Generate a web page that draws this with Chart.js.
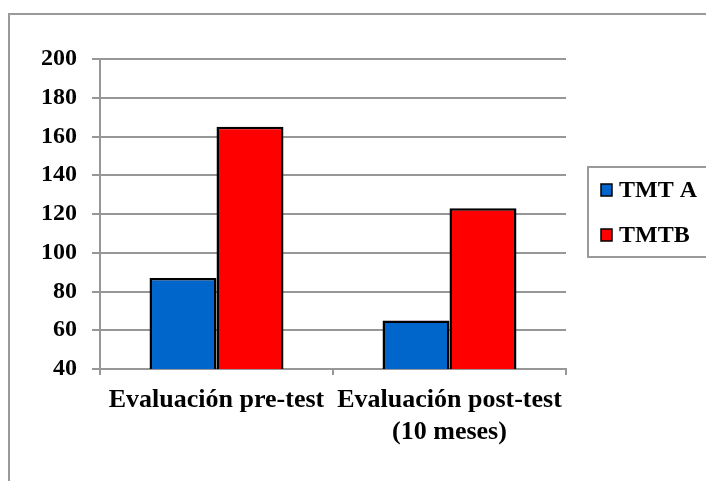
<!DOCTYPE html>
<html>
<head>
<meta charset="utf-8">
<script src="https://cdn.jsdelivr.net/npm/chart.js@4/dist/chart.umd.min.js"></script>
<style>
  html, body { margin: 0; padding: 0; background: #fff; }
  #wrap { width: 706px; height: 481px; position: relative; }
</style>
</head>
<body>
<div id="wrap"><canvas id="c" width="706" height="481"></canvas></div>
<script>
// Categories (multi-line labels as arrays)
const categories = [["Evaluación pre-test"], ["Evaluación post-test", "(10 meses)"]];
// Series
const seriesNames = ["TMT A", "TMTB"];
const tmtA = [87, 65];
const tmtB = [165, 123];
const seriesColors = ["#0066cc", "#ff0000"];
// Value axis
const yMin = 40;
const yMax = 200;
const yStep = 20;

const FONT = '"Liberation Serif", "Times New Roman", serif';
const GRID = '#979797';

// White page with the grey frame around the chart
const framePlugin = {
  id: 'frame',
  beforeDraw(chart) {
    const ctx = chart.ctx;
    ctx.save();
    ctx.fillStyle = '#fff';
    ctx.fillRect(0, 0, chart.width, chart.height);
    ctx.strokeStyle = '#9a9a9a';
    ctx.lineWidth = 2;
    ctx.strokeRect(9, 14, chart.width + 20, chart.height + 20);
    ctx.restore();
  }
};

// Boxed legend on the right, built from the datasets
const boxLegend = {
  id: 'boxLegend',
  afterDraw(chart) {
    const ctx = chart.ctx;
    const area = chart.chartArea;
    const left = area.right + 22;
    const top = 167;
    const bottom = 257;
    ctx.save();
    ctx.strokeStyle = '#9a9a9a';
    ctx.lineWidth = 2;
    ctx.strokeRect(left, top, chart.width, bottom - top);
    ctx.font = 'bold 24px ' + FONT;
    ctx.textBaseline = 'middle';
    ctx.textAlign = 'left';
    const rows = [190, 235];
    chart.data.datasets.forEach((ds, i) => {
      const y = rows[i];
      ctx.fillStyle = ds.backgroundColor;
      ctx.fillRect(left + 13, y - 6, 11, 12);
      ctx.strokeStyle = '#000';
      ctx.lineWidth = 1.5;
      ctx.strokeRect(left + 13, y - 6, 11, 12);
      ctx.fillStyle = '#000';
      ctx.fillText(ds.label, left + 31, y + 1);
    });
    ctx.restore();
  }
};

new Chart(document.getElementById('c'), {
  type: 'bar',
  data: {
    labels: categories,
    datasets: [
      { label: seriesNames[0], data: tmtA, backgroundColor: seriesColors[0] },
      { label: seriesNames[1], data: tmtB, backgroundColor: seriesColors[1] }
    ]
  },
  options: {
    responsive: false,
    animation: false,
    devicePixelRatio: 1,
    layout: { padding: { left: 0, top: 59, right: 140, bottom: 0 } },
    datasets: {
      bar: {
        barPercentage: 1,
        categoryPercentage: 0.575,
        borderColor: '#000',
        borderWidth: 2.5,
        borderSkipped: 'bottom'
      }
    },
    plugins: {
      legend: { display: false },
      tooltip: { enabled: false },
      title: { display: false }
    },
    scales: {
      x: {
        type: 'category',
        offset: true,
        afterFit(scale) { scale.height = 112; },
        grid: {
          offset: true,
          drawOnChartArea: false,
          drawTicks: true,
          tickLength: 6,
          color: GRID,
          lineWidth: 2
        },
        border: { color: GRID, width: 2 },
        ticks: {
          color: '#000',
          font: { family: FONT, size: 26, weight: 'bold', lineHeight: 1.25 },
          padding: 9,
          maxRotation: 0,
          autoSkip: false
        }
      },
      y: {
        min: yMin,
        max: yMax,
        afterFit(scale) { scale.width = 100; },
        grid: {
          color: GRID,
          lineWidth: 2,
          tickLength: 8
        },
        border: { color: GRID, width: 2 },
        ticks: {
          stepSize: yStep,
          color: '#000',
          font: { family: FONT, size: 24, weight: 'bold' },
          padding: 15
        }
      }
    }
  },
  plugins: [framePlugin, boxLegend]
});
</script>
</body>
</html>
